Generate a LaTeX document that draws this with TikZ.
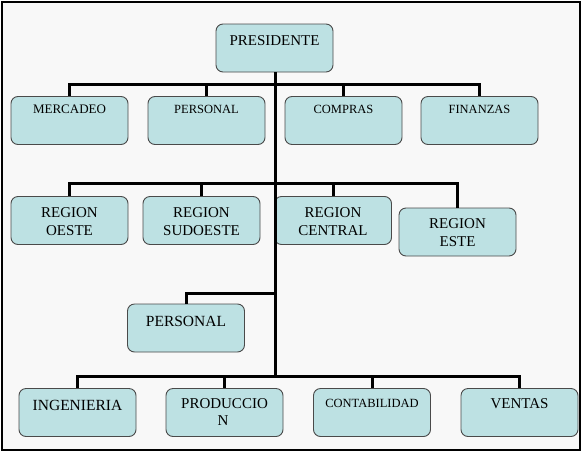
\documentclass[tikz,border=0pt]{standalone}
\usepackage{fontspec}
\setmainfont{Liberation Serif}
\definecolor{boxfill}{HTML}{BDE1E3}
\definecolor{boxline}{HTML}{4A4A4A}
\definecolor{bg}{HTML}{F8F8F8}
\begin{document}
\begin{tikzpicture}[x=1pt,y=-1pt,
  box/.style={draw=boxline,line width=0.9pt,fill=boxfill,rounded corners=7pt,
    minimum width=117pt,minimum height=48pt,inner sep=0pt},
  conn/.style={line width=3pt,black},
  txt/.style={anchor=base,inner sep=0pt,font=\fontsize{#1}{#1}\selectfont},
  txt/.default=15]
\useasboundingbox (0,0) rectangle (583,453);
\draw[line width=1.8pt,fill=bg] (2,2) rectangle (580,450);
% boxes
\node[box] (pres) at (274.5,48) {};
\node[box] (merc) at (69.5,120.5) {};
\node[box] (pers) at (206.5,120.5) {};
\node[box] (comp) at (343.5,120.5) {};
\node[box] (fin) at (479.5,120.5) {};
\node[box] (oeste) at (69.5,220.5) {};
\node[box] (sudo) at (201.5,220.5) {};
\node[box] (cent) at (333,220.5) {};
\node[box] (este) at (457.5,232) {};
\node[box] (pers2) at (186,328) {};
\node[box] (ing) at (77.5,412.5) {};
\node[box] (prod) at (224.5,412.5) {};
\node[box] (cont) at (372,412.5) {};
\node[box] (vent) at (519.5,412.5) {};
% junctions
\coordinate (j1) at (275,84);
\coordinate (j2) at (275,183);
\coordinate (j3) at (275,293);
\coordinate (j4) at (275,376);
% connectors
\draw[conn] (j1) -| (merc.north);
\draw[conn] (j1) -| (pers.north);
\draw[conn] (j1) -| (comp.north);
\draw[conn] (j1) -| (fin.north);
\draw[conn] (j2) -| (oeste.north);
\draw[conn] (j2) -| (sudo.north);
\draw[conn] (j2) -| (cent.north);
\draw[conn] (j2) -| (este.north);
\draw[conn] (j3) -| (pers2.north);
\draw[conn] (j4) -| (ing.north);
\draw[conn] (j4) -| (prod.north);
\draw[conn] (j4) -| (cont.north);
\draw[conn] (j4) -| (vent.north);
\draw[conn] (pres.south -| j1) -- (j4);
% texts
\node[txt=15] (t-pres) at (274.5,45) {PRESIDENTE};
\node[txt=13] (t-merc) at (69.5,113) {MERCADEO};
\node[txt=12.5] (t-pers) at (206.5,113) {PERSONAL};
\node[txt=12.5] (t-comp) at (343.5,113) {COMPRAS};
\node[txt=12.5] (t-fin) at (479.5,113) {FINANZAS};
\node[txt=15] (t-oeste1) at (69.5,217) {REGION};
\node[txt=15] (t-oeste2) at (69.5,235) {OESTE};
\node[txt=15] (t-sudo1) at (201.5,217) {REGION};
\node[txt=15] (t-sudo2) at (201.5,235) {SUDOESTE};
\node[txt=15] (t-cent1) at (333,217) {REGION};
\node[txt=15] (t-cent2) at (333,235) {CENTRAL};
\node[txt=15] (t-este1) at (457.5,228) {REGION};
\node[txt=15] (t-este2) at (457.5,246) {ESTE};
\node[txt=15.5] (t-pers2) at (186,326) {PERSONAL};
\node[txt=15.5] (t-ing) at (77.5,410) {INGENIERIA};
\node[txt=15] (t-prod1) at (224.5,408) {PRODUCCIO};
\node[txt=15] (t-prod2) at (223,425) {N};
\node[txt=12.5] (t-cont) at (372,407) {CONTABILIDAD};
\node[txt=15] (t-vent) at (519.5,408) {VENTAS};
\end{tikzpicture}
\end{document}
